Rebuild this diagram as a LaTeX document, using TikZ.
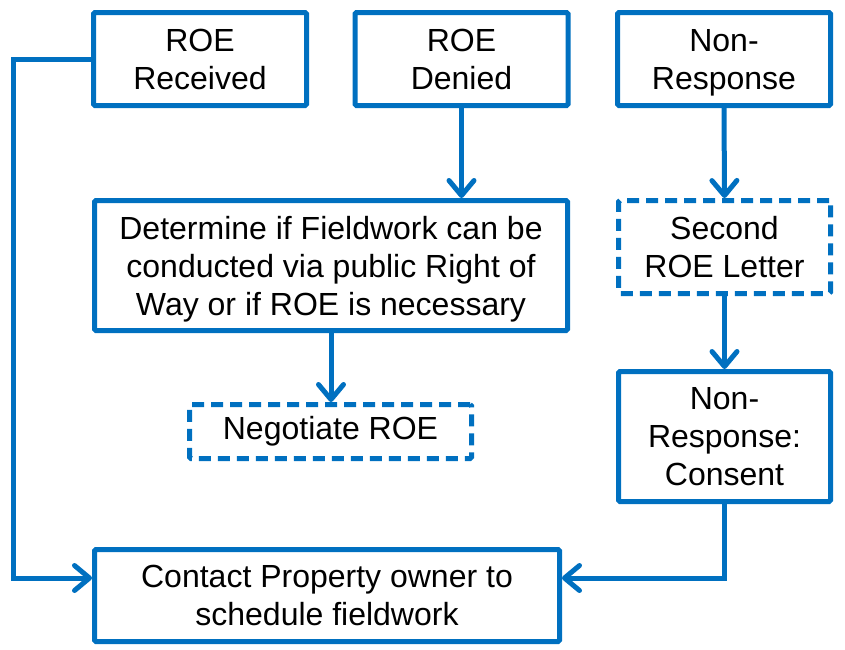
\documentclass[tikz,border=0pt]{standalone}
\usepackage{fontspec}
\setmainfont{Liberation Sans}
\usetikzlibrary{arrows.meta}
\definecolor{roeblue}{RGB}{0,112,192}

\begin{document}
\begin{tikzpicture}[x=1pt,y=-1pt,
  box/.style={draw=roeblue, line width=5pt, rounded corners=1.5pt, align=center,
    inner sep=0pt, font=\fontsize{32}{38}\selectfont},
  dashbox/.style={box, dash pattern=on 12pt off 7pt},
  flow/.style={draw=roeblue, line width=5pt, -{Straight Barb[length=15pt,width=25pt,round]}}]

\useasboundingbox (0,0) rectangle (845,649);

%top row
\node[box, minimum width=213pt, minimum height=93pt] (recv) at (200,59) {ROE\\Received};
\node[box, minimum width=213pt, minimum height=93pt] (denied) at (461.5,59) {ROE\\Denied};
\node[box, minimum width=213pt, minimum height=93pt, text depth=0pt] (nonresp) at (724,59) {Non-\\Response};

%middle
\node[box, minimum width=473pt, minimum height=130pt, text depth=0pt] (determine) at (331,265.5)
  {Determine if Fieldwork can be\\conducted via public Right of\\Way or if ROE is necessary};
\node[dashbox, minimum width=212pt, minimum height=93pt] (second) at (724.5,247) {Second\\ROE Letter};
\node[dashbox, minimum width=282pt, minimum height=54pt] (negotiate) at (330.5,431.5) {Negotiate ROE};
\node[box, minimum width=212pt, minimum height=130pt] (consent) at (724.5,436.5) {Non-\\Response:\\Consent};

%bottom
\node[box, minimum width=465pt, minimum height=92pt] (contact) at (327,595.5)
  {Contact Property owner to\\schedule fieldwork};
\coordinate (cleft) at ([yshift=17.5pt]contact.west);
\coordinate (cright) at ([yshift=17.5pt]contact.east);

%connectors
\draw[flow] (denied.south) -- (denied.south |- determine.north);
\draw[flow] (nonresp.south) -- (second.north);
\draw[flow] (second.south) -- (consent.north);
\draw[flow] (determine.south) -- (determine.south |- negotiate.north);
\draw[flow] (recv.west) -- (13,59) |- (cleft);
\draw[flow] (consent.south) |- (cright);

\end{tikzpicture}
\end{document}
